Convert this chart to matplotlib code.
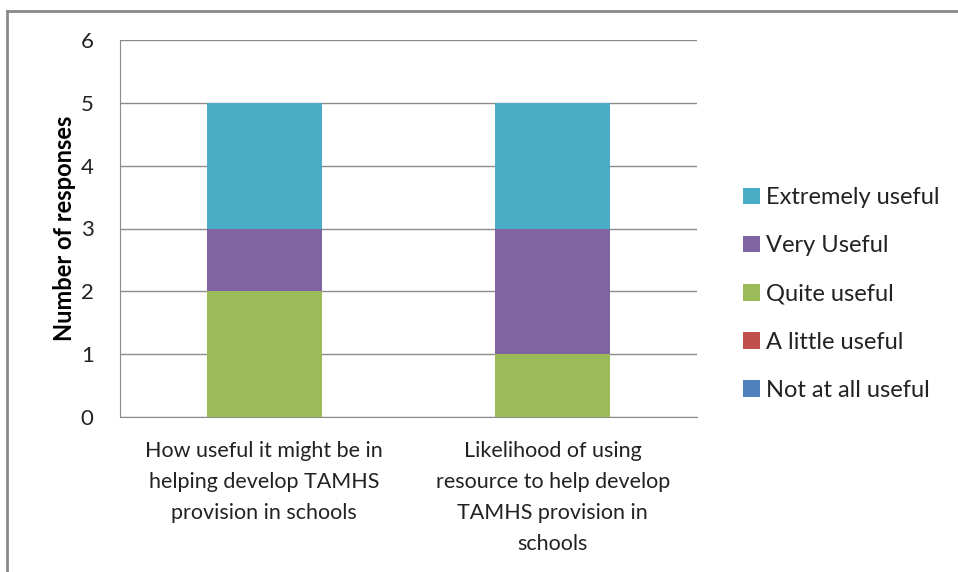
import matplotlib
matplotlib.use("Agg")
import matplotlib.pyplot as plt
from matplotlib.lines import Line2D
import numpy as np

plt.rcParams['font.family'] = ['Lato', 'DejaVu Sans']

# data
categories = ["How useful it might be in\nhelping develop TAMHS\nprovision in schools",
              "Likelihood of using\nresource to help develop\nTAMHS provision in\nschools"]
series_names = ["Not at all useful", "A little useful", "Quite useful", "Very Useful", "Extremely useful"]
not_at_all = [0, 0]
a_little = [0, 0]
quite = [2, 1]
very = [1, 2]
extremely = [2, 2]
colors = ["#4F81BD", "#C0504D", "#9BBB59", "#8064A2", "#4BACC6"]

W, H = 958, 572
fig = plt.figure(figsize=(W / 100, H / 100), dpi=100)
ax = fig.add_axes([120 / W, 1 - 417 / H, (697 - 120) / W, (417 - 40) / H])

x = np.arange(len(categories))
bottom = np.zeros(len(categories))
handles = []
for name, vals, c in zip(series_names, [not_at_all, a_little, quite, very, extremely], colors):
    b = ax.bar(x, vals, width=0.4, bottom=bottom, color=c, label=name, zorder=3)
    handles.append(b)
    bottom += np.array(vals)

ax.set_xlim(-0.5, 1.5)
ax.set_ylim(0, 6)
ax.set_yticks(range(7))
ax.yaxis.grid(True, color="#8c8c8c", linewidth=1)
ax.set_axisbelow(True)
ax.tick_params(axis='y', length=0, labelsize=16, pad=19, colors="#222222")
ax.tick_params(axis='x', length=0, labelsize=15.5, pad=17)
ax.set_xticks(x)
ax.set_xticklabels(categories, linespacing=1.7, color="#222222")
for s in ["top", "right"]:
    ax.spines[s].set_visible(False)
for s in ["left", "bottom"]:
    ax.spines[s].set_color("#8c8c8c")
ax.set_ylabel("Number of responses", fontsize=17, fontweight="bold", labelpad=3)

leg = fig.legend(handles[::-1], series_names[::-1], loc="center left",
                 bbox_to_anchor=(722 / W, 1 - 294 / H), frameon=False,
                 fontsize=17, handlelength=0.7, handleheight=0.7,
                 handletextpad=0.25, labelspacing=1.15)
for t in leg.get_texts():
    t.set_color("#222222")

# outer chart border (top and left only, rest is cropped)
fig.lines.append(Line2D([7 / W, 1.0], [1 - 11 / H, 1 - 11 / H], transform=fig.transFigure,
                        color="#8a8a8a", linewidth=2))
fig.lines.append(Line2D([7 / W, 7 / W], [0.0, 1 - 11 / H], transform=fig.transFigure,
                        color="#8a8a8a", linewidth=2))

fig.savefig("out.png", dpi=100)
